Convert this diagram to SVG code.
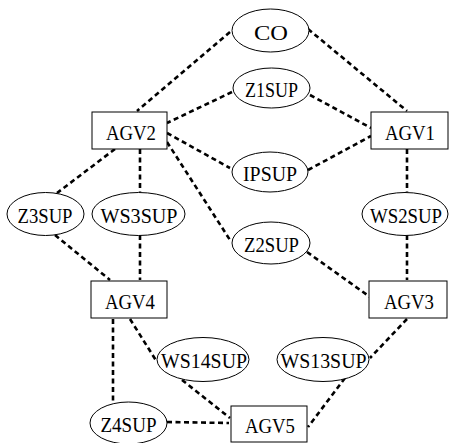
<svg xmlns="http://www.w3.org/2000/svg" width="449" height="443" viewBox="0 0 449 443">
<style>
.n ellipse,.n rect{fill:#fff;stroke:#000;stroke-width:1}
text{font-family:"Liberation Serif","DejaVu Serif",serif;font-size:21px;text-anchor:middle;fill:#000}
#edges line{stroke:#000;stroke-width:2.6;stroke-dasharray:5,3.5}
</style>
<rect width="449" height="443" fill="#fff"/>
<g id="edges">
<line x1="230" y1="32" x2="137" y2="111"/>
<line x1="308" y1="29" x2="407" y2="111"/>
<line x1="232" y1="92" x2="167" y2="123"/>
<line x1="310" y1="95" x2="371" y2="128"/>
<line x1="167" y1="133" x2="230" y2="168"/>
<line x1="308" y1="170" x2="371" y2="136"/>
<line x1="115" y1="149" x2="57" y2="193"/>
<line x1="140" y1="149" x2="140" y2="192"/>
<line x1="167" y1="142" x2="230" y2="240"/>
<line x1="407" y1="149" x2="407" y2="192"/>
<line x1="55" y1="235" x2="110" y2="280"/>
<line x1="140" y1="235" x2="140" y2="280"/>
<line x1="307" y1="252" x2="370" y2="297"/>
<line x1="407" y1="235" x2="407" y2="280"/>
<line x1="113" y1="319" x2="113" y2="401"/>
<line x1="130" y1="319" x2="157" y2="362"/>
<line x1="182" y1="380" x2="230" y2="418"/>
<line x1="407" y1="319" x2="370" y2="358"/>
<line x1="345" y1="378" x2="308" y2="427"/>
<line x1="167" y1="422" x2="229" y2="423"/>
</g>
<g id="CO" class="n"><ellipse cx="270.5" cy="30.5" rx="38.5" ry="21.5"/><text x="271" y="40" textLength="34" lengthAdjust="spacingAndGlyphs">CO</text></g>
<g id="Z1SUP" class="n"><ellipse cx="271.5" cy="88" rx="38.5" ry="20"/><text x="271.5" y="97" textLength="53" lengthAdjust="spacingAndGlyphs">Z1SUP</text></g>
<g id="AGV2" class="n"><rect x="92" y="112" width="75" height="37"/><text x="131" y="140" textLength="50" lengthAdjust="spacingAndGlyphs">AGV2</text></g>
<g id="AGV1" class="n"><rect x="371" y="112" width="77" height="37"/><text x="410" y="140" textLength="50" lengthAdjust="spacingAndGlyphs">AGV1</text></g>
<g id="IPSUP" class="n"><ellipse cx="270" cy="172" rx="38" ry="20"/><text x="270" y="181" textLength="54" lengthAdjust="spacingAndGlyphs">IPSUP</text></g>
<g id="Z3SUP" class="n"><ellipse cx="45.5" cy="214" rx="38.5" ry="21.5"/><text x="45" y="223" textLength="55" lengthAdjust="spacingAndGlyphs">Z3SUP</text></g>
<g id="WS3SUP" class="n"><ellipse cx="138.5" cy="214" rx="46.5" ry="21.5"/><text x="139" y="223" textLength="77" lengthAdjust="spacingAndGlyphs">WS3SUP</text></g>
<g id="WS2SUP" class="n"><ellipse cx="405" cy="214" rx="43" ry="21.5"/><text x="406" y="223" textLength="72" lengthAdjust="spacingAndGlyphs">WS2SUP</text></g>
<g id="Z2SUP" class="n"><ellipse cx="271" cy="243" rx="39" ry="21"/><text x="271.5" y="252" textLength="55" lengthAdjust="spacingAndGlyphs">Z2SUP</text></g>
<g id="AGV4" class="n"><rect x="91" y="281" width="76" height="37"/><text x="130" y="309" textLength="50" lengthAdjust="spacingAndGlyphs">AGV4</text></g>
<g id="AGV3" class="n"><rect x="369" y="281" width="78" height="37"/><text x="409" y="309" textLength="50" lengthAdjust="spacingAndGlyphs">AGV3</text></g>
<g id="WS14SUP" class="n"><ellipse cx="203" cy="359.5" rx="46" ry="22"/><text x="204" y="368" textLength="86" lengthAdjust="spacingAndGlyphs">WS14SUP</text></g>
<g id="WS13SUP" class="n"><ellipse cx="323" cy="359.5" rx="46" ry="22"/><text x="323.5" y="368" textLength="86" lengthAdjust="spacingAndGlyphs">WS13SUP</text></g>
<g id="Z4SUP" class="n"><ellipse cx="128.5" cy="423" rx="38.5" ry="21"/><text x="128.5" y="432" textLength="56" lengthAdjust="spacingAndGlyphs">Z4SUP</text></g>
<g id="AGV5" class="n"><rect x="231" y="406" width="76" height="36"/><text x="270" y="433" textLength="50" lengthAdjust="spacingAndGlyphs">AGV5</text></g>
</svg>
